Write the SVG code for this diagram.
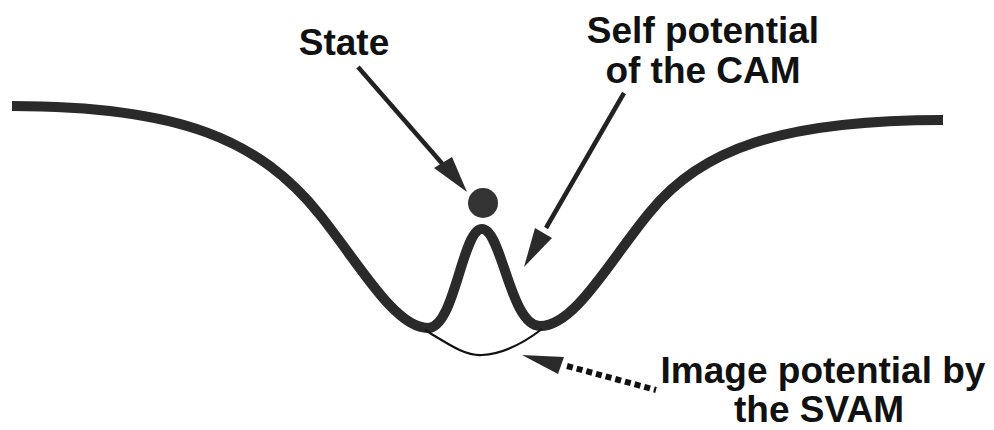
<svg xmlns="http://www.w3.org/2000/svg" width="994" height="430" viewBox="0 0 994 430">
<style>
.lbl{font-family:"Liberation Sans",Arial,sans-serif;font-weight:bold;font-size:37px;fill:#111;text-anchor:middle}
.curve{fill:none;stroke:#2a2a2a;stroke-width:10;stroke-linecap:butt;stroke-linejoin:round}
.thin{fill:none;stroke:#111;stroke-width:2.2}
.arrow{stroke:#222;stroke-width:4.5;fill:none}
.head{fill:#2a2a2a}
</style>
<rect width="994" height="430" fill="#fff"/>
<g id="potential">
<path class="curve" d="M 12 106 C 180 106, 260 140, 320 215 C 360 265, 395 328, 428 328 C 455 328, 462 229, 482 229 C 502 229, 510 326, 540 326 C 575 326, 610 260, 650 212 C 700 150, 780 120, 943 120"/>
</g>
<g id="image-potential">
<path class="thin" d="M 425 330 C 450 345, 465 356, 482 355 C 505 354, 525 342, 542 329"/>
</g>
<g id="state-ball">
<circle cx="483" cy="203" r="15" fill="#333"/>
</g>
<g id="connectors">
<line class="arrow" x1="358" y1="67" x2="446" y2="168"/>
<polygon class="head" points="467,192 434,168 452,157"/>
<line class="arrow" x1="624" y1="93" x2="546" y2="228"/>
<polygon class="head" points="524,267 535,228 552,238"/>
<line x1="567" y1="366" x2="656" y2="390" stroke="#111" stroke-width="6" stroke-dasharray="6 4"/>
<polygon class="head" points="522,355 564,357 558,374"/>
</g>
<g id="label-state"><text class="lbl" x="344" y="55">State</text></g>
<g id="label-self"><text class="lbl" x="703" y="43">Self potential</text><text class="lbl" x="703" y="83">of the CAM</text></g>
<g id="label-image"><text class="lbl" x="823" y="383">Image potential by</text><text class="lbl" x="819" y="422">the SVAM</text></g>
</svg>
